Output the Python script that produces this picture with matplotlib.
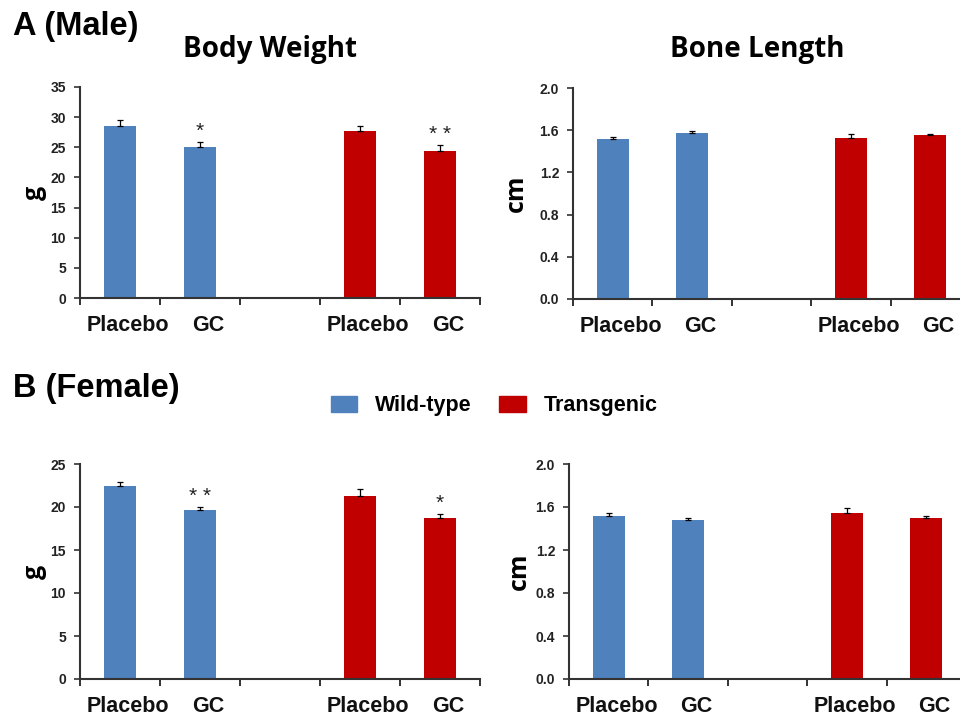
import matplotlib
matplotlib.use('Agg')
import matplotlib.pyplot as plt
from matplotlib.patches import Patch

# data
groups = ['Wild-type', 'Transgenic']
treatments = ['Placebo', 'GC']
colors = ['#4F81BD', '#C00000']

male_weight = [28.6, 25.0, 27.7, 24.4]
male_weight_err = [0.9, 0.9, 0.9, 0.9]
male_weight_stars = ['*', '* *']  # GC bars (wild-type, transgenic)

male_bone = [1.52, 1.575, 1.53, 1.55]
male_bone_err = [0.02, 0.02, 0.03, 0.015]

female_weight = [22.45, 19.65, 21.3, 18.7]
female_weight_err = [0.45, 0.35, 0.85, 0.45]
female_weight_stars = ['* *', '*']

female_bone = [1.52, 1.48, 1.545, 1.50]
female_bone_err = [0.02, 0.02, 0.045, 0.02]

weight_ticks_male = [0, 5, 10, 15, 20, 25, 30, 35]
weight_ticks_female = [0, 5, 10, 15, 20, 25]
bone_ticks = [0.0, 0.4, 0.8, 1.2, 1.6, 2.0]

bar_x = [0, 1, 3, 4]  # slot 2 stays empty between the genotypes
bar_colors = [colors[0], colors[0], colors[1], colors[1]]
bar_labels = treatments * 2

TICK_FONT = 'Liberation Sans'
TITLE_FONT = 'Open Sans'
AX_COLOR = '#333333'


def draw_panel(ax, values, errs, yticks, ylabel, fmt, stars=None, labelpad=8):
    """Bar panel with upper error bars only."""
    ax.bar(bar_x, values, width=0.4, color=bar_colors, zorder=2)
    ax.errorbar(bar_x, values, yerr=[[0] * len(errs), errs], fmt='none',
                ecolor='black', elinewidth=0.9, capsize=2.5, capthick=0.9, zorder=3)
    ax.set_xlim(-0.5, 4.5)
    ax.set_ylim(yticks[0], yticks[-1])
    ax.set_yticks(yticks)
    ax.set_yticklabels([fmt.format(t) for t in yticks], fontfamily=TICK_FONT,
                       fontweight='bold', fontsize=10, color='#222222')
    # major ticks at slot boundaries, category labels on minor ticks
    ax.set_xticks([i - 0.5 for i in range(6)])
    ax.set_xticklabels([])
    ax.set_xticks([b + 0.1 for b in bar_x], minor=True)
    ax.set_xticklabels(bar_labels, minor=True, fontfamily=TICK_FONT,
                       fontweight='bold', fontsize=15.5, color='#111111')
    ax.tick_params(axis='x', which='minor', length=0, pad=12)
    ax.tick_params(axis='x', which='major', length=5, width=1.4, color=AX_COLOR)
    ax.tick_params(axis='y', length=4, width=1.2, color=AX_COLOR, pad=6)
    for side in ['top', 'right']:
        ax.spines[side].set_visible(False)
    for side in ['left', 'bottom']:
        ax.spines[side].set_color(AX_COLOR)
        ax.spines[side].set_linewidth(1.5)
    ax.set_ylabel(ylabel, fontfamily=TITLE_FONT, fontweight='bold', fontsize=18,
                  labelpad=labelpad)
    if stars:
        span = yticks[-1] - yticks[0]
        for i, s in zip([1, 3], stars):
            ax.text(bar_x[i], values[i] + errs[i] + span * 0.005, s, ha='center',
                    va='bottom', fontsize=15, fontfamily=TICK_FONT, color='#222222')


fig = plt.figure(figsize=(9.6, 7.19), dpi=100)

ax1 = fig.add_axes([80 / 960, 1 - 298 / 719, 400 / 960, 211 / 719])
ax2 = fig.add_axes([573 / 960, 1 - 299 / 719, 397 / 960, 211 / 719])
ax3 = fig.add_axes([80 / 960, 1 - 679 / 719, 400 / 960, 215 / 719])
ax4 = fig.add_axes([569 / 960, 1 - 679 / 719, 397 / 960, 215 / 719])

draw_panel(ax1, male_weight, male_weight_err, weight_ticks_male, 'g', '{:d}',
           male_weight_stars, labelpad=3)
draw_panel(ax2, male_bone, male_bone_err, bone_ticks, 'cm', '{:.1f}', labelpad=8)
draw_panel(ax3, female_weight, female_weight_err, weight_ticks_female, 'g', '{:d}',
           female_weight_stars, labelpad=3)
draw_panel(ax4, female_bone, female_bone_err, bone_ticks, 'cm', '{:.1f}', labelpad=3)

fig.text(13 / 960, 1 - 27 / 719, 'A (Male)', fontfamily=TICK_FONT, fontweight='bold',
         fontsize=23.5, va='center', ha='left')
fig.text(13 / 960, 1 - 388 / 719, 'B (Female)', fontfamily=TICK_FONT, fontweight='bold',
         fontsize=23.5, va='center', ha='left')
fig.text(270 / 960, 1 - 50 / 719, 'Body Weight', fontfamily=TITLE_FONT, fontweight='bold',
         fontsize=20, va='center', ha='center')
fig.text(757 / 960, 1 - 50 / 719, 'Bone Length', fontfamily=TITLE_FONT, fontweight='bold',
         fontsize=20, va='center', ha='center')

handles = [Patch(color=c, label=g) for c, g in zip(colors, groups)]
fig.legend(handles=handles, loc='center', bbox_to_anchor=(494 / 960, 1 - 406 / 719),
           ncol=2, frameon=False, handlelength=1.25, handleheight=0.8,
           handletextpad=0.8, columnspacing=1.3,
           prop={'family': TICK_FONT, 'weight': 'bold', 'size': 15.5})

fig.savefig('out.png', dpi=100)
